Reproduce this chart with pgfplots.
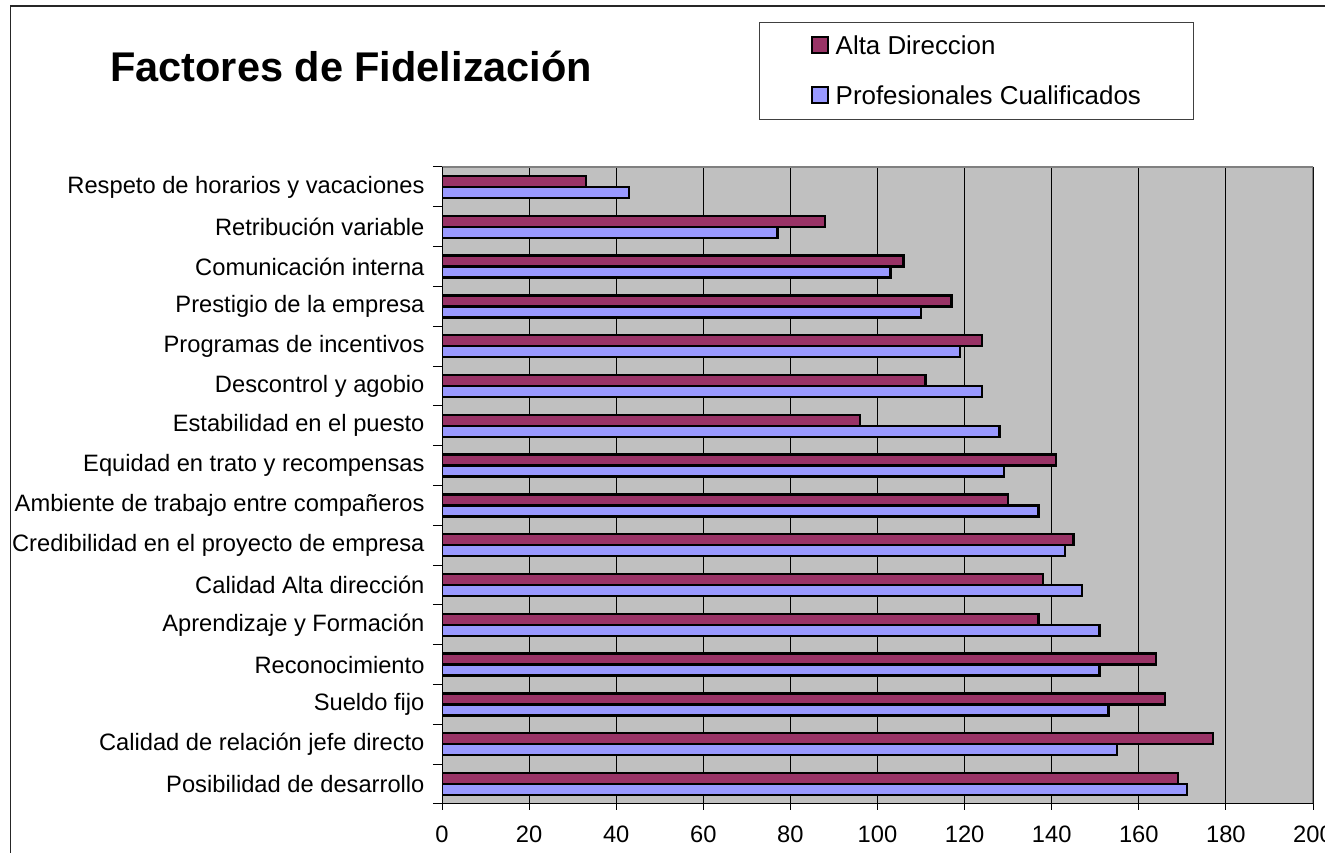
\documentclass[border=0pt]{standalone}
\usepackage{fontspec}
\setmainfont{Liberation Sans}
\usepackage{pgfplots}
\pgfplotsset{compat=1.18}
\definecolor{ad}{HTML}{993366}
\definecolor{pc}{HTML}{9999FF}
\definecolor{bg}{HTML}{C0C0C0}
\definecolor{frame}{HTML}{808080}
\begin{document}
\begin{tikzpicture}[x=1pt,y=1pt]
\path[use as bounding box] (0,0) rectangle (1325,853);
\begin{scope}
\clip (0,0) rectangle (1325,853);
\draw[line width=1.5pt, black!85] (10.5,847) rectangle (1400,-20);
\node[anchor=base west, font=\fontsize{41.5}{48}\selectfont\bfseries, inner sep=0pt] at (110,771) {Factores de Fidelización};
\begin{axis}[
  at={(442pt,49pt)}, anchor=south west,
  width=871pt, height=637pt, scale only axis,
  xbar, bar width=11pt,
  xmin=0, xmax=200, ymin=-0.5, ymax=15.5,
  xtick={0,20,...,200},
  ytick={0,...,15},
  yticklabels={Posibilidad de desarrollo, Calidad de relación jefe directo, Sueldo fijo, Reconocimiento, Aprendizaje y Formación, Calidad Alta dirección, Credibilidad en el proyecto de empresa, Ambiente de trabajo entre compañeros, Equidad en trato y recompensas, Estabilidad en el puesto, Descontrol y agobio, Programas de incentivos, Prestigio de la empresa, Comunicación interna, Retribución variable, Respeto de horarios y vacaciones},
  minor ytick={-0.5,0.5,...,15.5},
  tick align=outside, tick pos=left,
  major tick length=6pt, minor tick length=9pt,
  every major y tick/.append style={draw=none},
  tick style={black, line width=1pt},
  xmajorgrids, major grid style={black, line width=1pt},
  axis background/.style={fill=bg},
  axis line style={draw=none},
  ticklabel style={font=\fontsize{23.7}{28}\selectfont},
  yticklabel style={xshift=-8pt},
  xticklabel style={yshift=-12pt},
  /pgf/number format/assume math mode=true,
  legend style={at={(0.364,1.2308)}, anchor=north west, yshift=-2pt, draw=black!75, line width=1pt,
    font=\fontsize{25.9}{30}\selectfont, inner xsep=51pt, inner ysep=11pt, row sep=26pt,
    cells={anchor=west}},
  legend image code/.code={\draw[#1, line width=2pt] (0pt,-7.5pt) rectangle (16pt,8.5pt); \path (21pt,0pt);},
]
\addplot[fill=ad, draw=black, line width=2.4pt, bar shift=5.5pt] coordinates {
(169,0) (177,1) (166,2) (164,3) (137,4) (138,5) (145,6) (130,7) (141,8) (96,9) (111,10) (124,11) (117,12) (106,13) (88,14) (33,15)};
\addplot[fill=pc, draw=black, line width=2.4pt, bar shift=-5.5pt] coordinates {
(171,0) (155,1) (153,2) (151,3) (151,4) (147,5) (143,6) (137,7) (129,8) (128,9) (124,10) (119,11) (110,12) (103,13) (77,14) (43,15)};
\legend{Alta Direccion, Profesionales Cualificados}
\draw[frame, line width=2pt] (rel axis cs:0,1) -- (rel axis cs:1,1) -- (rel axis cs:1,0);
\draw[black, line width=1.2pt] (rel axis cs:0,1) -- (rel axis cs:0,0) -- (rel axis cs:1,0);
\end{axis}
\end{scope}
\end{tikzpicture}
\end{document}
